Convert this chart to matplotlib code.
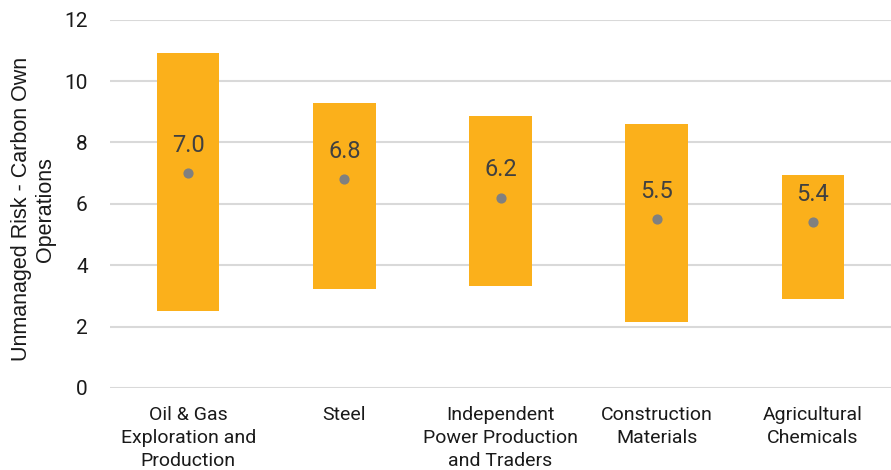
import matplotlib.pyplot as plt

plt.rcParams['font.family'] = ['Roboto', 'DejaVu Sans']

sectors = ['Oil & Gas\nExploration and\nProduction', 'Steel',
           'Independent\nPower Production\nand Traders', 'Construction\nMaterials',
           'Agricultural\nChemicals']
low = [2.51, 3.22, 3.33, 2.16, 2.89]
high = [10.93, 9.28, 8.86, 8.59, 6.94]
avg = [7.0, 6.8, 6.2, 5.5, 5.4]

fig = plt.figure(figsize=(8.91, 4.70), dpi=100)
ax = fig.add_axes([0.1235, 0.1745, 0.8765, 0.7835])

x = range(len(sectors))
heights = [h - l for h, l in zip(high, low)]
ax.bar(x, heights, bottom=low, width=0.40, color='#FBB01B', zorder=2)
ax.scatter(x, avg, s=40, color='#808080', zorder=3)
for i, v in zip(x, avg):
    ax.annotate(f'{v:.1f}', (i, v), xytext=(0, 12), textcoords='offset points',
                ha='center', va='bottom', fontsize=17, color='#404040', zorder=4)

ax.set_xlim(-0.5, len(sectors) - 0.5)
ax.set_ylim(0, 12)
ax.set_yticks(range(0, 13, 2))
ax.set_xticks(list(x))
ax.set_xticklabels(sectors, fontsize=14, color='#1a1a1a', linespacing=1.35)
ax.tick_params(axis='y', labelsize=15, colors='#1a1a1a', length=0, pad=16)
ax.tick_params(axis='x', length=0, pad=13)
ax.grid(axis='y', color='#d9d9d9', linewidth=1.5, zorder=0)
for s in ax.spines.values():
    s.set_visible(False)

ax.set_ylabel('Unmanaged Risk - Carbon Own\nOperations', fontsize=15.5,
              family=['Liberation Sans', 'DejaVu Sans'],
              color='#1a1a1a', linespacing=1.2)
ax.yaxis.set_label_coords(-0.069, 0.485)

fig.savefig('out.png', dpi=100)
